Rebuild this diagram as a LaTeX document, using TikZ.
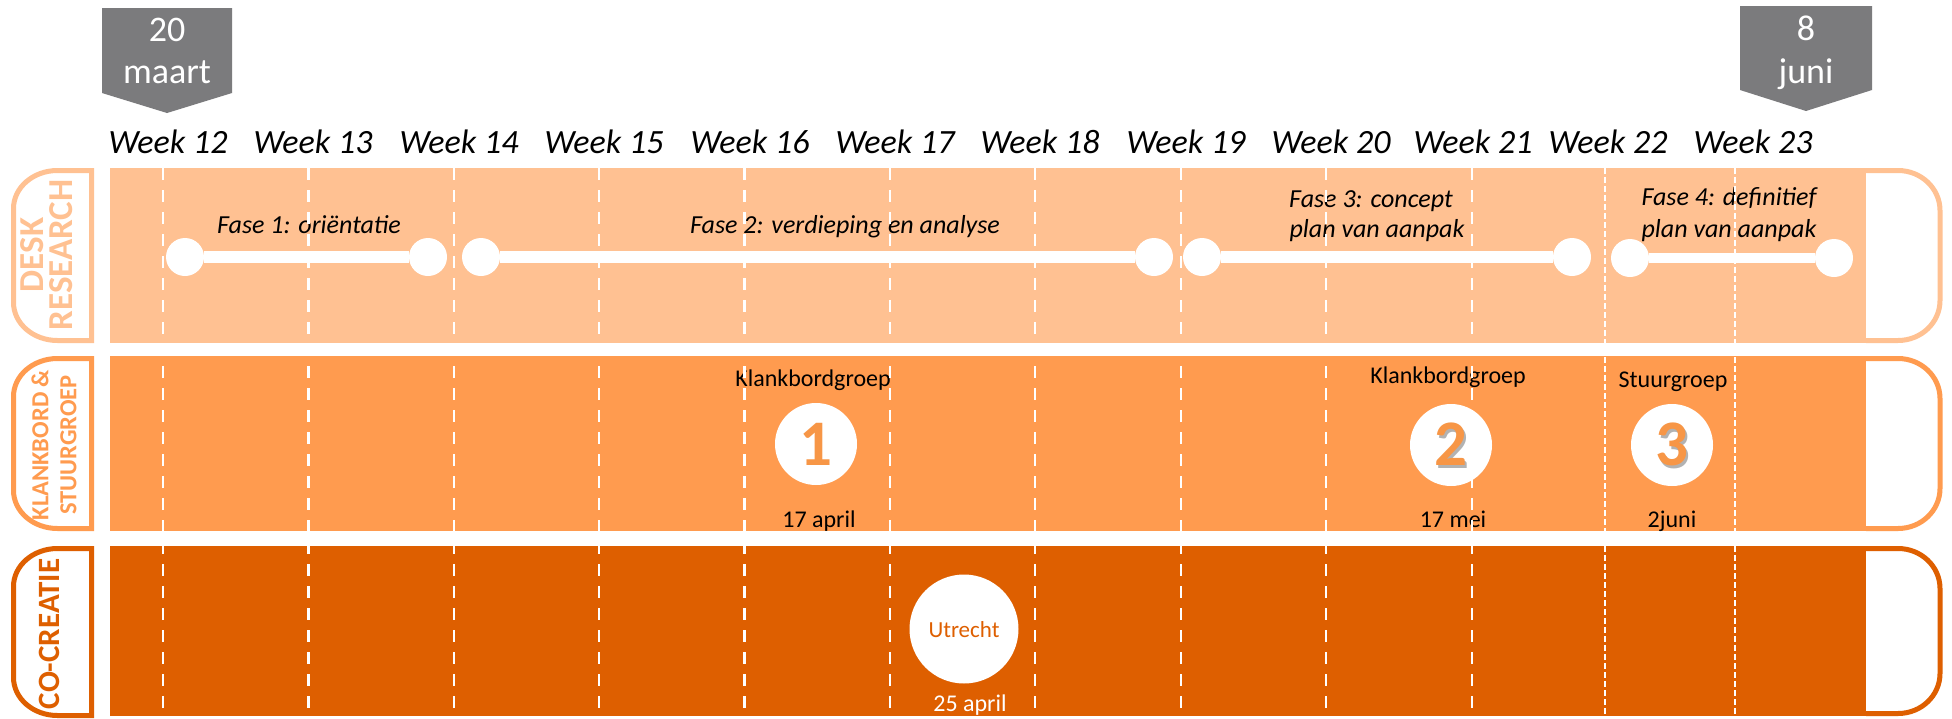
\documentclass[tikz,border=0pt]{standalone}
\usepackage{fontspec}
\setmainfont{Carlito}
\definecolor{drc}{HTML}{FFC192}
\definecolor{ksc}{HTML}{FF9B4F}
\definecolor{ccc}{HTML}{DE5F00}
\definecolor{mgray}{HTML}{7B7B7D}
\definecolor{digit}{HTML}{F79646}
\begin{document}
\begin{tikzpicture}[x=1pt,y=-1pt,
  wk/.style={font=\fontsize{34}{40}\selectfont\itshape, inner sep=0, anchor=base},
  fase/.style={font=\fontsize{26}{32}\selectfont\itshape, inner sep=0, anchor=base},
  lbl/.style={font=\fontsize{24}{28}\selectfont, inner sep=0, anchor=base},
  datetxt/.style={font=\fontsize{36}{40}\selectfont, text=white, inner sep=0, anchor=base},
  big/.style={font=\fontsize{65}{70}\selectfont\bfseries, inner sep=0, anchor=base, text=digit},
  shad/.style={font=\fontsize{65}{70}\selectfont\bfseries, inner sep=0, anchor=base, text=black, opacity=0.3},
  endpt/.style={circle, fill=white, minimum size=38pt, inner sep=0},
  meet/.style={circle, fill=white, minimum size=82pt, inner sep=0},
  phaseline/.style={white, line width=12pt},
  gridthick/.style={white, line width=2.5pt, dash pattern=on 12pt off 10pt},
  gridthin/.style={white, line width=1.5pt, dash pattern=on 6pt off 3pt},
  tabline/.style={line width=5pt},
  tabtext/.style={align=center, rotate=90, inner sep=0},
]
\useasboundingbox (0,0) rectangle (1952,718);
\fill[white] (0,0) rectangle (1952,718);

% bands
\fill[drc] (110,168) rectangle (1866,343);
\fill[ksc] (110,356) rectangle (1866,531);
\fill[ccc] (110,546) rectangle (1866,716);

% right brackets
\draw[drc, tabline] (1866,170.5) -- (1898,170.5) arc[start angle=270, end angle=360, x radius=42, y radius=40]
  -- (1940,300.5) arc[start angle=0, end angle=90, x radius=42, y radius=40] -- (1866,340.5);
\draw[ksc, tabline] (1866,358.5) -- (1898,358.5) arc[start angle=270, end angle=360, x radius=42, y radius=40]
  -- (1940,488.5) arc[start angle=0, end angle=90, x radius=42, y radius=40] -- (1866,528.5);
\draw[ccc, tabline] (1866,548.5) -- (1898,548.5) arc[start angle=270, end angle=360, x radius=42, y radius=40]
  -- (1940,673.5) arc[start angle=0, end angle=90, x radius=42, y radius=40] -- (1866,713.5);

% left tabs
\draw[drc, tabline] (91.5,170.5) -- (57.5,170.5) arc[start angle=270, end angle=180, x radius=44, y radius=38]
  -- (13.5,302.5) arc[start angle=180, end angle=90, x radius=44, y radius=38] -- (91.5,340.5) -- cycle;
\draw[ksc, tabline] (91.5,358.5) -- (57.5,358.5) arc[start angle=270, end angle=180, x radius=44, y radius=38]
  -- (13.5,490.5) arc[start angle=180, end angle=90, x radius=44, y radius=38] -- (91.5,528.5) -- cycle;
\draw[ccc, tabline] (91.5,548.5) -- (57.5,548.5) arc[start angle=270, end angle=180, x radius=44, y radius=38]
  -- (13.5,677.5) arc[start angle=180, end angle=90, x radius=44, y radius=38] -- (91.5,715.5) -- cycle;

\node[tabtext, text=drc, font=\fontsize{35}{29}\selectfont\bfseries] (tdr) at (47,255) {DESK\\RESEARCH};
\node[tabtext, text=ksc, font=\fontsize{24.5}{28}\selectfont\bfseries] (tks) at (54,445) {KLANKBORD \&\\STUURGROEP};
\node[tabtext, text=ccc, font=\fontsize{31}{34}\selectfont\bfseries] (tcc) at (49,634) {CO-CREATIE};

% date markers
\fill[mgray] (102,8) -- (232,8) -- (232,93) -- (167,113) -- (102,93) -- cycle;
\node[datetxt] (m1a) at (167,41) {20};
\node[datetxt] (m1b) at (167,83) {maart};
\fill[mgray] (1740,6) -- (1872,6) -- (1872,90) -- (1806,111) -- (1740,90) -- cycle;
\node[datetxt] (m2a) at (1806,40) {8};
\node[datetxt] (m2b) at (1806,83) {juni};

% weeks
\foreach \i/\x in {12/168,13/313,14/459,15/604,16/750,17/895,18/1040,19/1186,20/1331,21/1473,22/1608,23/1753}
  \node[wk] (w\i) at (\x,153) {Week \i};

% phases
\node[endpt] (p1a) at (185,257) {};
\node[endpt] (p1b) at (428,257) {};
\node[endpt] (p2a) at (481,257) {};
\node[endpt] (p2b) at (1154,257) {};
\node[endpt] (p3a) at (1202,257) {};
\node[endpt] (p3b) at (1572,257) {};
\node[endpt] (p4a) at (1630,258) {};
\node[endpt] (p4b) at (1834,258) {};
\draw[phaseline] (p1a) -- (p1b);
\draw[phaseline] (p2a) -- (p2b);
\draw[phaseline] (p3a) -- (p3b);
\draw[phaseline, line width=10pt] (p4a) -- (p4b);

\node[fase] (f1) at (309,233) {Fase 1: oriëntatie};
\node[fase] (f2) at (845,233) {Fase 2: verdieping en analyse};
\node[fase] (f3a) at (1371,207) {Fase 3: concept};
\node[fase] (f3b) at (1377,237) {plan van aanpak};
\node[fase] (f4a) at (1729,205) {Fase 4: definitief};
\node[fase] (f4b) at (1729,237) {plan van aanpak};

% klankbord & stuurgroep
\node[lbl] (k1) at (813,386) {Klankbordgroep};
\node[meet] (c1) at (816,444) {};
\node[big] (n1) at (816,465) {1};
\node[lbl] (d1) at (819,527) {17 april};

\node[lbl] (k2) at (1448,383) {Klankbordgroep};
\node[meet] (c2) at (1451,445) {};
\node[shad] (n2s) at (1453,468) {2};
\node[big] (n2) at (1451,465) {2};
\node[lbl] (d2) at (1453,527) {17 mei};

\node[lbl] (s3) at (1673,387) {Stuurgroep};
\node[meet] (c3) at (1672,445) {};
\node[shad] (n3s) at (1674,468) {3};
\node[big] (n3) at (1672,465) {3};
\node[lbl] (d3) at (1672,527) {2juni};

% co-creatie
\node[circle, fill=white, minimum size=109pt, inner sep=0] (ut) at (964,629) {};
\node[lbl, text=ccc, font=\fontsize{23}{28}\selectfont] (utt) at (964,637) {Utrecht};
\node[lbl, text=white] (d4) at (970,711) {25 april};

% grid lines
\foreach \x in {163,308.5,454,599,744.5,890,1035,1181,1326,1472}
  \draw[gridthick] (\x,168) -- (\x,718);
\foreach \x in {1605,1735}
  \draw[gridthin] (\x,168) -- (\x,718);
\end{tikzpicture}
\end{document}
